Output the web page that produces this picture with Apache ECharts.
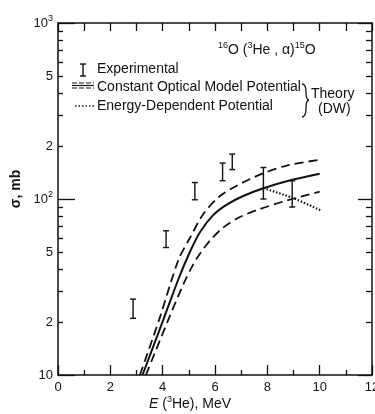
<!DOCTYPE html>
<html>
<head>
<meta charset="utf-8">
<script src="https://cdn.jsdelivr.net/npm/echarts@6/dist/echarts.min.js"></script>
<style>html,body{margin:0;padding:0;background:#fff;}#c{width:375px;height:414px;}</style>
</head>
<body>
<div id="c"></div>
<script>
// ---- data ----
var xTickLabels = [0, 2, 4, 6, 8, 10, 12];
var yLabelValues = [10, 20, 50, 100, 200, 500, 1000];
var yMinorValues = [20, 30, 40, 50, 60, 70, 80, 90, 200, 300, 400, 500, 600, 700, 800, 900];
var yMajorValues = [10, 100, 1000];
// experimental: [E, low, high]
var expE    = [2.87, 4.13, 5.23, 6.29, 6.66, 7.85, 8.95];
var expLow  = [21, 53, 99, 127, 147, 100, 90];
var expHigh = [27, 66, 124, 160, 180, 151, 127];
// constant optical model potential (solid) and its band (dashed)
var solidE  = [3.23, 4.02, 4.6, 5.04, 5.43, 5.93, 6.45, 7.08, 7.85, 8.74, 10.0];
var solidV  = [10, 20.5, 35, 50, 65, 81, 93, 104, 115, 126, 139];
var upperE  = [3.13, 3.86, 4.6, 5.04, 5.55, 6.19, 6.83, 7.34, 7.85, 8.74, 10.0];
var upperV  = [10, 20.5, 45, 60, 82, 104, 119, 130, 140, 155, 167];
var lowerE  = [3.36, 4.21, 4.8, 5.15, 5.43, 5.81, 6.32, 6.95, 7.65, 8.74, 10.0];
var lowerV  = [10, 20.5, 33, 42, 49, 58, 69, 79, 87, 98, 110];
// energy-dependent potential (dotted)
var dotE    = [7.85, 8.93, 10.05];
var dotV    = [115, 102, 86];

function pairs(a, b) { return a.map(function (v, i) { return [v, b[i]]; }); }
var expData = expE.map(function (e, i) { return [e, expLow[i], expHigh[i]]; });

var FONT = 'Liberation Sans';
var BLACK = '#111';

var chart = echarts.init(document.getElementById('c'), null, {renderer: 'canvas'});

function yAxisBase(pos) {
  return {
    type: 'log', logBase: 10, min: 10, max: 1000, position: pos,
    splitLine: {show: false}, minorTick: {show: false}, minorSplitLine: {show: false},
    axisLine: {show: false}, axisLabel: {show: false}, axisTick: {show: false}
  };
}

var yLeftMinor = yAxisBase('left');
yLeftMinor.axisLine = {show: true, lineStyle: {color: BLACK, width: 1.5}};
yLeftMinor.axisTick = {show: true, inside: true, length: 5, customValues: yMinorValues, lineStyle: {color: BLACK, width: 1.3}};
yLeftMinor.axisLabel = {
  show: true, customValues: yLabelValues, margin: 5, color: BLACK, fontFamily: FONT, fontSize: 13,
  formatter: function (v) {
    v = Math.round(v);
    if (v === 1000) return '10{sup|3}';
    if (v === 100) return '10{sup|2}';
    if (v === 10) return '10';
    return String(v >= 100 ? v / 100 : v / 10);
  },
  rich: {sup: {fontSize: 9, verticalAlign: 'bottom', padding: [0, 0, 8, 0], fontFamily: FONT, color: BLACK}}
};
var yLeftMajor = yAxisBase('left');
yLeftMajor.axisTick = {show: true, inside: true, length: 17, customValues: yMajorValues, lineStyle: {color: BLACK, width: 1.3}};
var yRightMinor = yAxisBase('right');
yRightMinor.axisLine = {show: true, lineStyle: {color: BLACK, width: 1.5}};
yRightMinor.axisTick = {show: true, inside: true, length: 6, customValues: yMinorValues, lineStyle: {color: BLACK, width: 1.3}};
var yRightMajor = yAxisBase('right');
yRightMajor.axisTick = {show: true, inside: true, length: 14, customValues: yMajorValues, lineStyle: {color: BLACK, width: 1.3}};

function txt(x, y, s, extra) {
  var st = {text: s, fill: BLACK, fontFamily: FONT, fontSize: 14, verticalAlign: 'middle'};
  if (extra) for (var k in extra) st[k] = extra[k];
  return {type: 'text', x: x, y: y, style: st};
}
function seg(x1, y1, x2, y2, w, dash) {
  var st = {stroke: BLACK, lineWidth: w};
  if (dash) st.lineDash = dash;
  return {type: 'line', shape: {x1: x1, y1: y1, x2: x2, y2: y2}, style: st};
}
function curve(x1, y1, cx, cy, x2, y2) {
  return {type: 'bezierCurve', shape: {x1: x1, y1: y1, cpx1: cx, cpy1: cy, x2: x2, y2: y2},
          style: {stroke: BLACK, lineWidth: 1.3, fill: null}};
}

var option = {
  backgroundColor: '#fff',
  animation: false,
  grid: {left: 58, right: 3, top: 23, bottom: 39, containLabel: false, outerBoundsMode: 'none'},
  xAxis: [
    {
      type: 'value', position: 'bottom', min: 0, max: 12, interval: 2,
      axisLine: {show: true, onZero: false, lineStyle: {color: BLACK, width: 1.5}},
      axisTick: {show: true, inside: true, length: 10, lineStyle: {color: BLACK, width: 1.3}},
      minorTick: {show: true, splitNumber: 2, length: 5, lineStyle: {color: BLACK, width: 1.3}},
      splitLine: {show: false},
      axisLabel: {show: true, margin: 6, color: BLACK, fontFamily: FONT, fontSize: 13, customValues: xTickLabels}
    },
    {
      type: 'value', position: 'top', min: 0, max: 12, interval: 1,
      axisLine: {show: true, onZero: false, lineStyle: {color: BLACK, width: 1.5}},
      axisTick: {show: true, inside: true, length: 8, lineStyle: {color: BLACK, width: 1.3}},
      splitLine: {show: false}, axisLabel: {show: false}
    }
  ],
  yAxis: [yLeftMinor, yLeftMajor, yRightMinor, yRightMajor],
  series: [
    {
      type: 'custom', name: 'Experimental', xAxisIndex: 0, yAxisIndex: 0,
      data: expData, z: 5,
      renderItem: function (params, api) {
        var x = api.value(0);
        var p1 = api.coord([x, api.value(1)]);
        var p2 = api.coord([x, api.value(2)]);
        var st = {stroke: BLACK, lineWidth: 1.4};
        return {
          type: 'group', children: [
            {type: 'line', shape: {x1: p1[0], y1: p1[1], x2: p2[0], y2: p2[1]}, style: st},
            {type: 'line', shape: {x1: p1[0] - 3, y1: p1[1], x2: p1[0] + 3, y2: p1[1]}, style: st},
            {type: 'line', shape: {x1: p2[0] - 3, y1: p2[1], x2: p2[0] + 3, y2: p2[1]}, style: st}
          ]
        };
      }
    },
    {
      type: 'line', name: 'Constant', xAxisIndex: 0, yAxisIndex: 0, data: pairs(solidE, solidV),
      smooth: 0.3, showSymbol: false, lineStyle: {color: BLACK, width: 2}
    },
    {
      type: 'line', name: 'Upper', xAxisIndex: 0, yAxisIndex: 0, data: pairs(upperE, upperV),
      smooth: 0.3, showSymbol: false, lineStyle: {color: BLACK, width: 1.8, type: [9, 5]}
    },
    {
      type: 'line', name: 'Lower', xAxisIndex: 0, yAxisIndex: 0, data: pairs(lowerE, lowerV),
      smooth: 0.3, showSymbol: false, lineStyle: {color: BLACK, width: 1.8, type: [9, 5]}
    },
    {
      type: 'line', name: 'Energy-Dependent', xAxisIndex: 0, yAxisIndex: 0, data: pairs(dotE, dotV),
      smooth: 0.3, showSymbol: false, lineStyle: {color: BLACK, width: 2.2, type: [1.5, 1.8]}
    }
  ],
  graphic: [
    seg(83, 64, 83, 76, 1.4), seg(80, 64, 86, 64, 1.4), seg(80, 76, 86, 76, 1.4),
    txt(97, 69, 'Experimental'),
    seg(72, 83, 94, 83, 1.2, [5, 2]), seg(72, 85.5, 94, 85.5, 1.2), seg(72, 88, 94, 88, 1.2, [5, 2]),
    txt(97, 87, 'Constant Optical Model Potential'),
    seg(75, 106, 94, 106, 1.5, [1.5, 2]),
    txt(97, 106, 'Energy-Dependent Potential'),
    curve(302, 84, 306, 84, 306, 92), curve(306, 92, 306, 100, 309, 100),
    curve(309, 100, 306, 100, 306, 108), curve(306, 108, 306, 117, 302, 117),
    txt(311, 94, 'Theory'),
    txt(318, 109, '(DW)'),
    txt(218, 50, '{s|16}O ({s|3}He , α){s|15}O', {
      rich: {s: {fontSize: 9, verticalAlign: 'bottom', padding: [0, 0, 8, 0], fontFamily: FONT, fill: BLACK}}
    }),
    {type: 'text', x: 16, y: 189, rotation: Math.PI / 2, style: {
      text: 'σ, mb', fill: BLACK, fontFamily: FONT, fontSize: 14, fontWeight: 'bold', align: 'center', verticalAlign: 'middle'}},
    txt(190, 404, '{i|E} ({s|3}He), MeV', {
      align: 'center',
      rich: {i: {fontStyle: 'italic', fontSize: 14, fontFamily: FONT, fill: BLACK},
             s: {fontSize: 9, verticalAlign: 'bottom', padding: [0, 0, 8, 0], fontFamily: FONT, fill: BLACK}}
    })
  ]
};
chart.setOption(option);
</script>
</body>
</html>
